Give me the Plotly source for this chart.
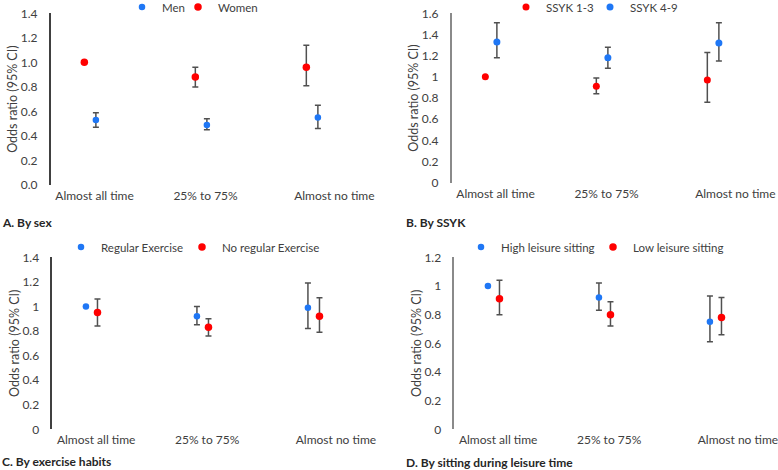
import plotly.graph_objects as go

# ---------------- data ----------------
categories = ["Almost all time", "25% to 75%", "Almost no time"]

# A. By sex
men_or = [0.53, 0.49, 0.55]
men_lo = [0.47, 0.45, 0.46]
men_hi = [0.59, 0.54, 0.65]
women_or = [1.00, 0.88, 0.96]
women_lo = [None, 0.80, 0.81]
women_hi = [None, 0.96, 1.14]

# B. By SSYK
ssyk13_or = [1.00, 0.91, 0.97]
ssyk13_lo = [None, 0.84, 0.76]
ssyk13_hi = [None, 0.99, 1.23]
ssyk49_or = [1.33, 1.18, 1.32]
ssyk49_lo = [1.18, 1.08, 1.15]
ssyk49_hi = [1.51, 1.28, 1.51]

# C. By exercise habits
regex_or = [1.00, 0.92, 0.99]
regex_lo = [None, 0.85, 0.82]
regex_hi = [None, 1.00, 1.19]
noex_or = [0.95, 0.83, 0.92]
noex_lo = [0.84, 0.76, 0.79]
noex_hi = [1.06, 0.90, 1.07]

# D. By sitting during leisure time
high_or = [1.00, 0.92, 0.75]
high_lo = [None, 0.83, 0.61]
high_hi = [None, 1.02, 0.93]
low_or = [0.91, 0.80, 0.78]
low_lo = [0.80, 0.72, 0.66]
low_hi = [1.04, 0.89, 0.92]

panel_titles = ["A. By sex", "B. By SSYK", "C. By exercise habits",
                "D. By sitting during leisure time"]

# ---------------- styling / layout ----------------
W, H = 778, 470
BLUE = "#1f77f5"
RED = "#ff0000"
ERR = "#505050"
FONT = "Lato"
TXT = "#404040"

def fx(p):
    return p / W

def fy(p):
    return 1 - p / H

PXU = 111.0   # pixels per category unit
X0 = 0.645
OFF = 0.052

panels = [
    dict(L=50.7, R=390, T=13.3, B=185.0, ymax=1.4, fmt=".1f", ac="#404040"),
    dict(L=451.7, R=778, T=13.3, B=182.7, ymax=1.6, fmt="", ac="#8a8a8a"),
    dict(L=52.3, R=390, T=257.3, B=429.3, ymax=1.4, fmt="", ac="#404040"),
    dict(L=454.3, R=778, T=257.3, B=429.3, ymax=1.2, fmt="", ac="#8a8a8a"),
]

# (name, colour, values, lower CI, upper CI, side, marker size, legend left px, legend y px)
series = [
    [("Women", RED, women_or, women_lo, women_hi, -1, 7.5, 178, 7),
     ("Men", BLUE, men_or, men_lo, men_hi, +1, 6.5, 122, 7)],
    [("SSYK 1-3", RED, ssyk13_or, ssyk13_lo, ssyk13_hi, -1, 7.0, 506, 7),
     ("SSYK 4-9", BLUE, ssyk49_or, ssyk49_lo, ssyk49_hi, +1, 7.0, 590, 7)],
    [("Regular Exercise", BLUE, regex_or, regex_lo, regex_hi, -1, 6.5, 61, 247),
     ("No regular Exercise", RED, noex_or, noex_lo, noex_hi, +1, 7.5, 182, 247)],
    [("High leisure sitting", BLUE, high_or, high_lo, high_hi, -1, 6.5, 461, 247),
     ("Low leisure sitting", RED, low_or, low_lo, low_hi, +1, 7.5, 593, 247)],
]

title_pos = [(0, 222), (404, 222), (0, 461), (404, 462)]

fig = go.Figure()
layout = dict(width=W, height=H,
              margin=dict(l=0, r=0, t=0, b=0, autoexpand=False),
              paper_bgcolor="white", plot_bgcolor="white",
              font=dict(family=FONT, size=12, color=TXT))

leg_n = 0
for k, (pn, ser) in enumerate(zip(panels, series)):
    sfx = "" if k == 0 else str(k + 1)
    xa, ya = "x" + sfx, "y" + sfx
    for (name, col, vals, lo, hi, side, msize, lx, ly) in ser:
        leg_n += 1
        lg = "legend" if leg_n == 1 else "legend" + str(leg_n)
        xs = [i + 1 + side * OFF for i in range(len(categories))]
        plus = [None if h is None else h - v for v, h in zip(vals, hi)]
        minus = [None if l is None else v - l for v, l in zip(vals, lo)]
        fig.add_trace(go.Scatter(
            x=xs, y=vals, mode="markers", name=name,
            marker=dict(color=col, size=msize),
            error_y=dict(type="data", array=plus, arrayminus=minus,
                         color=ERR, thickness=1.5, width=3, visible=True),
            xaxis=xa, yaxis=ya, legend=lg,
        ))
        layout[lg] = dict(orientation="h", x=fx(lx), y=fy(ly), xanchor="left",
                          yanchor="middle", bgcolor="rgba(0,0,0,0)",
                          font=dict(size=11.5, color=TXT), itemwidth=30)
    xmax = X0 + (pn["R"] - pn["L"]) / PXU
    layout["xaxis" + sfx] = dict(
        domain=[fx(pn["L"]), fx(pn["R"])], range=[X0, xmax],
        anchor=ya, showgrid=False, zeroline=False, showline=False,
        tickvals=[1.04, 2.04, 3.2], ticktext=categories, ticks="",
        ticklabelstandoff=2, ticklabeloverflow="allow",
        tickfont=dict(size=12, color=TXT),
    )
    layout["yaxis" + sfx] = dict(
        domain=[fy(pn["B"]), fy(pn["T"])], range=[0, pn["ymax"]],
        anchor=xa, dtick=0.2, tick0=0, tickformat=pn["fmt"],
        showgrid=False, zeroline=False, showline=True,
        linecolor=pn["ac"], linewidth=1.5, ticks="",
        ticklabelstandoff=9, tickfont=dict(size=12, color=TXT),
        title=dict(text="Odds ratio (95% CI)", font=dict(size=12.5, color=TXT),
                   standoff=0),
    )

annotations = []
for t, (tx, ty) in zip(panel_titles, title_pos):
    annotations.append(dict(text="<b>" + t + "</b>", x=fx(tx), y=fy(ty),
                            xref="paper", yref="paper", xanchor="left",
                            yanchor="middle", showarrow=False,
                            font=dict(size=12, color="#262626", family=FONT)))
layout["annotations"] = annotations
layout["showlegend"] = True
fig.update_layout(**layout)
fig.write_html("out.html", config={"displayModeBar": False},
               post_script="document.body.style.margin='0';"
                           "document.body.style.overflow='hidden';")
